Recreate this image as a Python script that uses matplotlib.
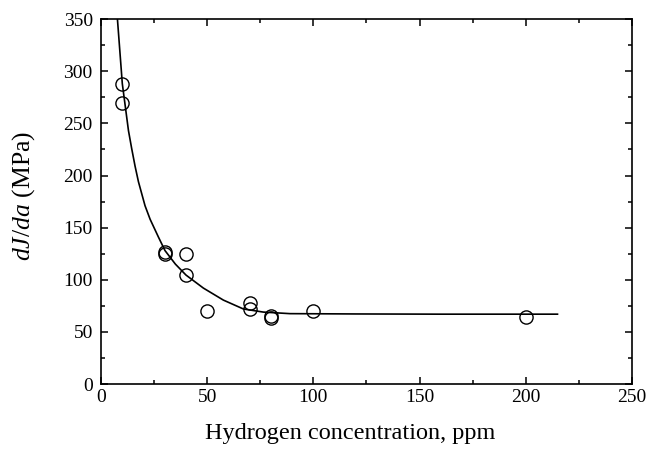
import numpy as np
import matplotlib
matplotlib.use('Agg')
import matplotlib.pyplot as plt
from matplotlib.ticker import MultipleLocator

#Measured points
h_ppm = [10, 10, 30, 30, 40, 40, 50, 70, 70, 80, 80, 100, 200]
djda = [288, 270, 127, 125, 125, 105, 70, 78, 72, 65, 63, 70, 64]

#Fitted curve
fit_x = [7.7, 10.0, 12.9, 14.4, 16.0, 17.6, 20.7, 23.1, 27.0, 30.1, 35.0, 40.0,
         48.2, 57.6, 67.0, 76.4, 89.0, 120, 160, 215]
fit_y = [350, 288, 243, 226, 209, 194, 171, 158, 141, 128, 115, 104.5,
         92, 80.5, 72, 69, 67.5, 67.2, 67, 67]

plt.rcParams['font.family'] = 'Liberation Serif'
plt.rcParams['mathtext.fontset'] = 'custom'
plt.rcParams['mathtext.rm'] = 'Liberation Serif'
plt.rcParams['mathtext.it'] = 'Liberation Serif:italic'

fig = plt.figure(figsize=(6.48, 4.55), dpi=100)
ax = fig.add_axes([0.156, 0.156, 0.819, 0.802])

ax.plot(fit_x, fit_y, color='black', lw=1.2)
ax.plot(h_ppm, djda, 'o', mfc='none', mec='black', mew=1.0, ms=9.5)

ax.set_xlim(0, 250)
ax.set_ylim(0, 350)
ax.xaxis.set_major_locator(MultipleLocator(50))
ax.xaxis.set_minor_locator(MultipleLocator(25))
ax.yaxis.set_major_locator(MultipleLocator(50))
ax.yaxis.set_minor_locator(MultipleLocator(25))
ax.tick_params(which='both', direction='in', top=True, right=True, labelsize=14, width=1.1)
ax.tick_params(which='major', length=5)
ax.tick_params(which='minor', length=3)
ax.tick_params(axis='y', pad=6)
for s in ax.spines.values():
    s.set_linewidth(1.2)

ax.set_xlabel('Hydrogen concentration, ppm', fontsize=17.5, labelpad=12, x=0.47)
ax.set_ylabel(r'$dJ/da$ (MPa)', fontsize=18.5, labelpad=19, y=0.515)

plt.savefig('out.png', dpi=100)
